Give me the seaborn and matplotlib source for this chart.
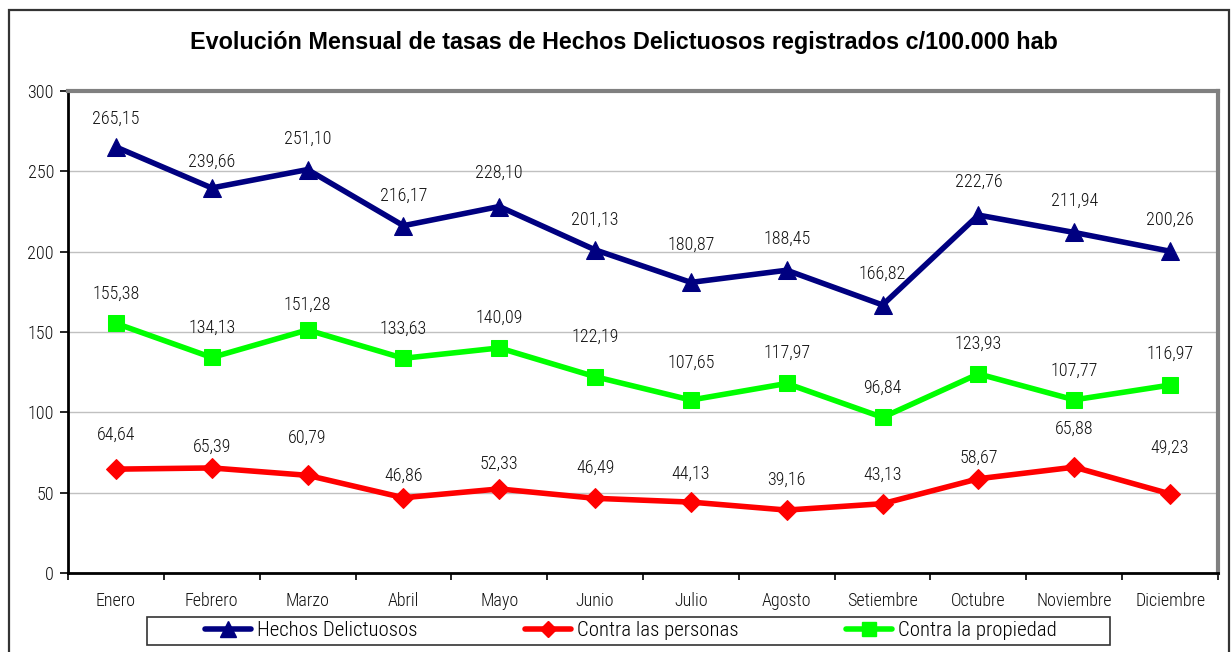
import matplotlib
matplotlib.use("Agg")
import matplotlib.pyplot as plt
from matplotlib.patches import Rectangle
from matplotlib.lines import Line2D
import seaborn as sns
import pandas as pd
import numpy as np

months = ["Enero", "Febrero", "Marzo", "Abril", "Mayo", "Junio", "Julio",
          "Agosto", "Setiembre", "Octubre", "Noviembre", "Diciembre"]
hechos = [265.15, 239.66, 251.10, 216.17, 228.10, 201.13, 180.87, 188.45,
          166.82, 222.76, 211.94, 200.26]
personas = [64.64, 65.39, 60.79, 46.86, 52.33, 46.49, 44.13, 39.16,
            43.13, 58.67, 65.88, 49.23]
propiedad = [155.38, 134.13, 151.28, 133.63, 140.09, 122.19, 107.65, 117.97,
             96.84, 123.93, 107.77, 116.97]
series_names = ["Hechos Delictuosos", "Contra las personas", "Contra la propiedad"]
title = "Evolución Mensual de tasas de Hechos Delictuosos registrados c/100.000 hab"

# label offsets (pixels above the point)
off_hechos = [28, 26, 31, 30, 34, 30, 38, 31, 31, 33, 32, 31]
off_personas = [34, 21, 38, 22, 25, 31, 28, 30, 29, 21, 38, 46]
off_propiedad = [30, 30, 25, 30, 30, 40, 37, 31, 30, 30, 29, 31]

sns.set_theme(style="white")
narrow = ["Roboto Condensed", "PT Sans Narrow", "DejaVu Sans"]
plt.rcParams["font.family"] = narrow
plt.rcParams["font.weight"] = 300
plt.rcParams["text.color"] = "black"

W, H = 1232, 652
fig = plt.figure(figsize=(W / 100, H / 100), dpi=100)
fig.patch.set_facecolor("white")
ax = fig.add_axes([68 / W, 1 - 573 / H, (1218 - 68) / W, (573 - 91) / H])

df = pd.DataFrame({"mes": months * 3,
                   "valor": hechos + personas + propiedad,
                   "serie": sum([[s] * 12 for s in series_names], [])})

styles = {
    "Hechos Delictuosos": dict(color="#000080", marker="^", markersize=13.5),
    "Contra las personas": dict(color="#FF0000", marker="D", markersize=10),
    "Contra la propiedad": dict(color="#00FF00", marker="s", markersize=11.5),
}
for name, offs in zip(series_names, [off_hechos, off_personas, off_propiedad]):
    sub = df[df["serie"] == name]
    st = styles[name]
    sns.lineplot(data=sub, x="mes", y="valor", ax=ax, sort=False,
                 color=st["color"], marker=st["marker"], markersize=st["markersize"],
                 markeredgecolor=st["color"], linewidth=4, legend=False)
    for i, v in enumerate(sub["valor"]):
        ax.annotate(f"{v:.2f}".replace(".", ","), (i, v), xytext=(0, offs[i]),
                    textcoords="offset pixels", ha="center", va="center",
                    fontsize=13, color="#111111", fontweight=300)

ax.set_xlim(-0.5, 11.5)
ax.set_ylim(0, 300)
ax.set_yticks(np.arange(0, 301, 50))
ax.set_xticks(range(12))
ax.set_xticks(np.arange(-0.5, 12, 1), minor=True)
ax.set_xticklabels(months, fontweight=300)
ax.set_yticklabels([str(v) for v in range(0, 301, 50)], fontweight=300)
ax.tick_params(axis="x", which="major", length=0, pad=14, labelsize=13, colors="#111111")
ax.tick_params(axis="x", which="minor", length=5, width=1.2, color="black", direction="out", bottom=True)
ax.tick_params(axis="y", length=6, width=1.2, color="black", direction="out", left=True,
               labelsize=13, pad=4, colors="#111111")
ax.set_xlabel("")
ax.set_ylabel("")
ax.yaxis.grid(True, color="#C0C0C0", linewidth=1)
ax.set_axisbelow(True)
for s in ["left", "bottom"]:
    ax.spines[s].set_color("black")
    ax.spines[s].set_linewidth(2)
for s in ["top", "right"]:
    ax.spines[s].set_color("#808080")
    ax.spines[s].set_linewidth(3)

fig.text(624 / W, 1 - 42 / H, title, ha="center", va="center", fontsize=16.8,
         fontweight="bold", color="black", family=["Liberation Sans", "DejaVu Sans"])

# outer frame
fig.patches.append(Rectangle((9 / W, -0.05), (1229 - 9) / W, (641 + 34) / H,
                             transform=fig.transFigure, fill=False,
                             edgecolor="#333333", linewidth=1.6))
# legend box
fig.patches.append(Rectangle((147 / W, 1 - 645 / H), (1110 - 147) / W, 28 / H,
                             transform=fig.transFigure, fill=False,
                             edgecolor="#333333", linewidth=1.2))
handles = [Line2D([], [], color=styles[n]["color"], marker=styles[n]["marker"],
                  markersize=styles[n]["markersize"] * 0.85, linewidth=4)
           for n in series_names]
leg = fig.legend(handles, series_names, loc="center left", ncol=3, mode="expand",
                 bbox_to_anchor=(205 / W, 1 - 645 / H, (1057 - 205) / W, 28 / H),
                 frameon=False, handlelength=2.2, handletextpad=0.3,
                 borderpad=0, borderaxespad=0, prop={"weight": 300, "size": 15})

fig.savefig("out.png", dpi=100)
